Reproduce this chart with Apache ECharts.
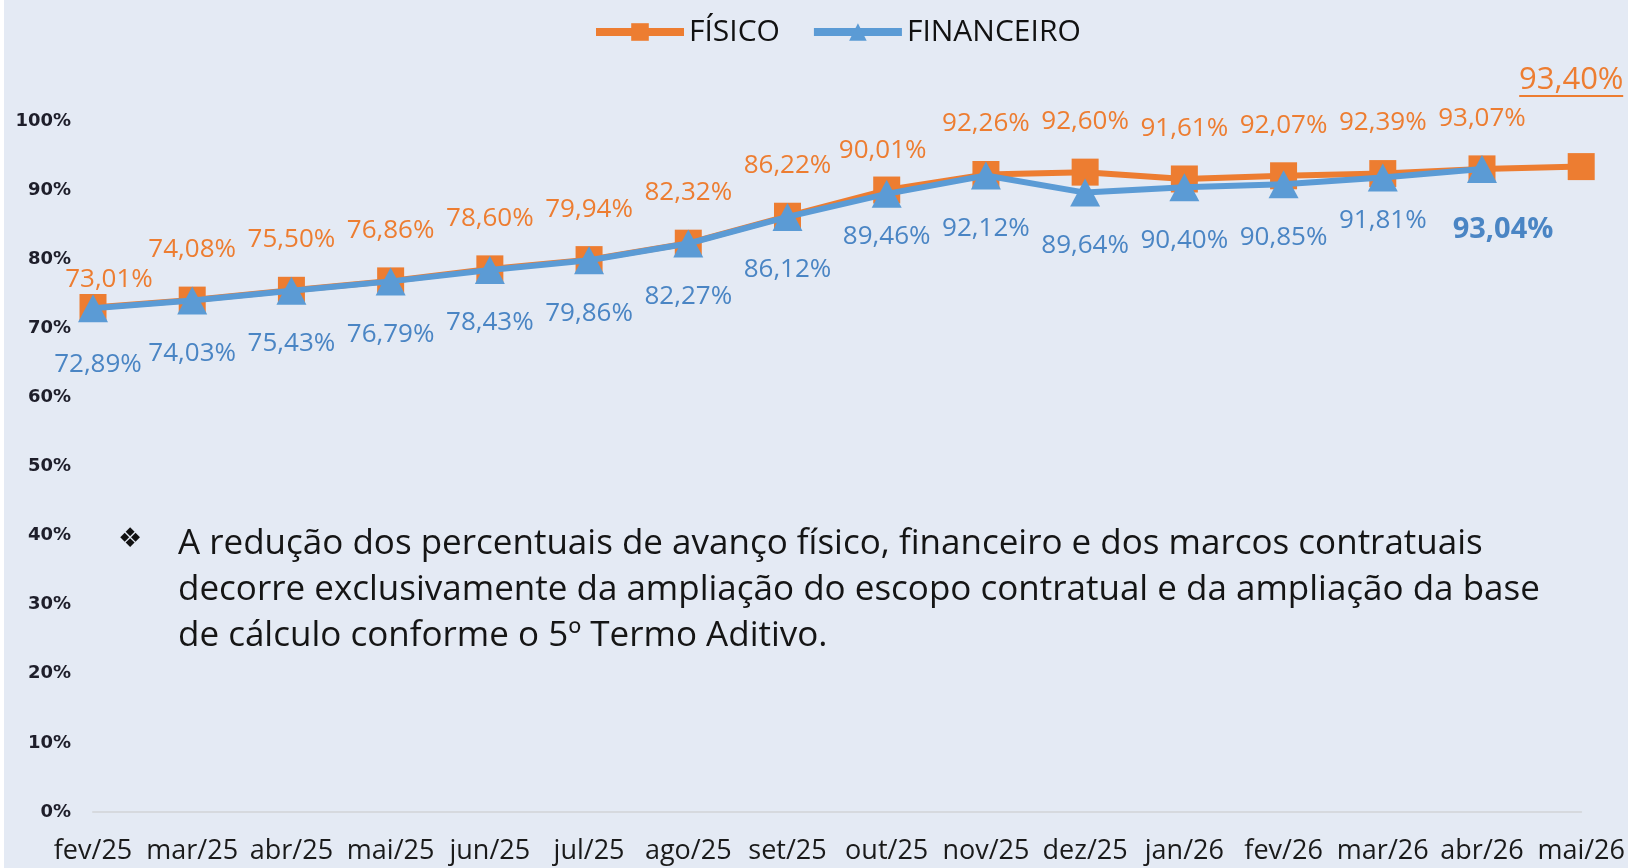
<!DOCTYPE html>
<html>
<head>
<meta charset="utf-8">
<script src="https://cdn.jsdelivr.net/npm/echarts@6/dist/echarts.min.js"></script>
<style>
  html, body { margin: 0; padding: 0; background: #ffffff; }
  #chart { position: absolute; left: 4px; top: 0; width: 1624px; height: 868px; background: #e4eaf4; }
</style>
</head>
<body>
<div id="chart"></div>
<script>
// meses
const months = ['fev/25', 'mar/25', 'abr/25', 'mai/25', 'jun/25', 'jul/25', 'ago/25', 'set/25',
  'out/25', 'nov/25', 'dez/25', 'jan/26', 'fev/26', 'mar/26', 'abr/26', 'mai/26']
// avanço físico (%)
const fisico = [73.01, 74.08, 75.50, 76.86, 78.60, 79.94, 82.32, 86.22,
  90.01, 92.26, 92.60, 91.61, 92.07, 92.39, 93.07, 93.40]
// avanço financeiro (%) - sem valor para mai/26
const financeiro = [72.89, 74.03, 75.43, 76.79, 78.43, 79.86, 82.27, 86.12,
  89.46, 92.12, 89.64, 90.40, 90.85, 91.81, 93.04]
const yTicks = [0, 10, 20, 30, 40, 50, 60, 70, 80, 90, 100]

const orange = '#ED7D31'
const blue = '#5B9BD5'
const fmt = v => v.toFixed(2).replace('.', ',') + '%'

const myChart = echarts.init(document.getElementById('chart'))

const fisicoData = fisico.map((v, i) => {
  const d = { value: v }
  if (i === 0) d.label = { offset: [16, 23] }
  if (i === 8) d.label = { offset: [-4, 11] }
  if (i === fisico.length - 1) {
    d.label = {
      offset: [-10, -32],
      formatter: p => '{big|' + fmt(p.value) + '}\n{u|}',
      rich: {
        big: { fontSize: 31, color: orange, fontFamily: 'Open Sans', lineHeight: 30 },
        u: { width: 104, height: 2, backgroundColor: orange, lineHeight: 2 }
      }
    }
  }
  return d
})

const financeiroData = financeiro.map((v, i) => {
  const d = { value: v }
  if (i === 0) d.label = { offset: [5, 3] }
  if (i === 8 || i === 13) d.label = { offset: [0, -10] }
  if (i === financeiro.length - 1) d.label = { offset: [21, 6], fontSize: 29, fontWeight: 'bold', color: '#4A85C4' }
  return d
})

const option = {
  backgroundColor: '#e4eaf4',
  animation: false,
  legend: {
    left: 583,
    top: 12,
    itemWidth: 88,
    itemHeight: 22,
    itemGap: 30,
    lineStyle: { width: 8 },
    textStyle: { fontFamily: 'Open Sans', fontSize: 30, color: '#111111' },
    data: ['FÍSICO', 'FINANCEIRO']
  },
  grid: { left: 89, right: 44, top: 121, bottom: 56, containLabel: false },
  xAxis: {
    type: 'category',
    boundaryGap: false,
    data: months,
    axisLine: { lineStyle: { color: '#d6d9de', width: 2 } },
    axisTick: { show: false },
    axisLabel: { fontFamily: 'Open Sans', fontSize: 27, color: '#1a1a1a', margin: 26, interval: 0 }
  },
  yAxis: {
    type: 'value',
    min: 0,
    max: 100,
    interval: 10,
    axisLine: { show: false },
    axisTick: { show: false },
    splitLine: { show: false },
    axisLabel: {
      fontFamily: 'DejaVu Sans',
      fontWeight: 'bold',
      fontSize: 18,
      color: '#1e1e2a',
      margin: 22,
      formatter: v => (yTicks.indexOf(v) >= 0 ? v + '%' : '')
    }
  },
  graphic: [
    {
      type: 'text', left: 114, top: 526,
      style: { text: '❖', font: '27px DejaVu Sans', fill: '#111111' }
    },
    {
      type: 'text', left: 174, top: 521,
      style: {
        text: 'A redução dos percentuais de avanço físico, financeiro e dos marcos contratuais\n' +
          'decorre exclusivamente da ampliação do escopo contratual e da ampliação da base\n' +
          'de cálculo conforme o 5º Termo Aditivo.',
        font: '35px Open Sans',
        lineHeight: 46,
        fill: '#151515'
      }
    }
  ],
  series: [
    {
      name: 'FÍSICO',
      type: 'line',
      data: fisicoData,
      symbol: 'rect',
      symbolSize: 27,
      lineStyle: { color: orange, width: 6 },
      itemStyle: { color: orange },
      label: {
        show: true,
        position: 'top',
        distance: 24,
        fontFamily: 'Open Sans',
        fontSize: 26,
        color: orange,
        formatter: p => fmt(p.value)
      },
      z: 2
    },
    {
      name: 'FINANCEIRO',
      type: 'line',
      data: financeiroData,
      symbol: 'triangle',
      symbolSize: [30, 28],
      lineStyle: { color: blue, width: 6 },
      itemStyle: { color: blue },
      label: {
        show: true,
        position: 'bottom',
        distance: 26,
        fontFamily: 'Open Sans',
        fontSize: 26,
        color: '#4A85C4',
        formatter: p => fmt(p.value)
      },
      z: 3
    }
  ]
}
myChart.setOption(option)
</script>
</body>
</html>
